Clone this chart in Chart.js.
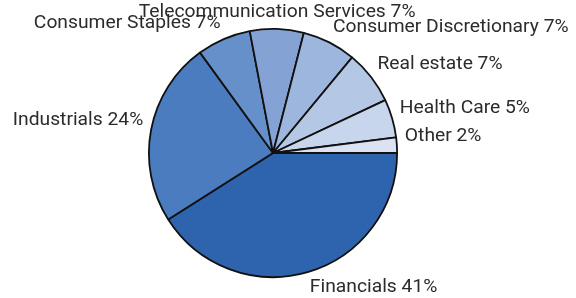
<!DOCTYPE html>
<html>
<head>
<meta charset="utf-8">
<script src="https://cdn.jsdelivr.net/npm/chart.js@4/dist/chart.umd.min.js"></script>
<style>
  html, body { margin: 0; padding: 0; background: #fff; }
  #wrap { width: 576px; height: 298px; }
</style>
</head>
<body>
<div id="wrap"><canvas id="pieChart" width="576" height="298"></canvas></div>
<script>
var sectores = ["Financials", "Industrials", "Consumer Staples", "Telecommunication Services",
    "Consumer Discretionary", "Real estate", "Health Care", "Other"];
var porcentajes = [41, 24, 7, 7, 7, 7, 5, 2];
var colores = ["#2e64ae", "#4b7cbf", "#6690c9", "#84a3d4", "#9db6dd", "#b4c7e5", "#c8d6ed", "#dbe3f2"];

// etiquetas fuera del pastel, pegadas al borde como en Excel
var etiquetasPlugin = {
    id: "etiquetas",
    afterDatasetsDraw: function (chart) {
        let ctx = chart.ctx;
        let meta = chart.getDatasetMeta(0);
        let estirar = 1.07; // el texto del original sale ensanchado
        ctx.save();
        ctx.font = "18px Roboto, Arial, sans-serif";
        ctx.fillStyle = "#2b2b2b";
        ctx.textBaseline = "middle";
        meta.data.forEach(function (arc, i) {
            let ang = (arc.startAngle + arc.endAngle) / 2;
            let r = arc.outerRadius + 8;
            let cos = Math.cos(ang), sin = Math.sin(ang);
            let x = arc.x + r * cos;
            let y = arc.y + r * sin + (sin >= 0 ? 8 : -8);
            if (cos > 0.15) ctx.textAlign = "left";
            else if (cos < -0.15) ctx.textAlign = "right";
            else ctx.textAlign = "center";
            ctx.save();
            ctx.translate(x, y);
            ctx.scale(estirar, 1);
            ctx.fillText(sectores[i] + " " + porcentajes[i] + "%", 0, 0);
            ctx.restore();
        });
        ctx.restore();
    }
};

let ctx = document.getElementById("pieChart").getContext("2d");
let pieChart = new Chart(ctx, {
    type: "pie",
    data: {
        labels: sectores,
        datasets: [{
            data: porcentajes,
            backgroundColor: colores,
            borderColor: "#111",
            borderWidth: 1.8
        }]
    },
    options: {
        responsive: false,
        animation: false,
        rotation: 90,
        layout: { padding: { top: 28, bottom: 20, left: 100, right: 130 } },
        plugins: {
            legend: { display: false },
            tooltip: { enabled: false }
        }
    },
    plugins: [etiquetasPlugin]
});
</script>
</body>
</html>
